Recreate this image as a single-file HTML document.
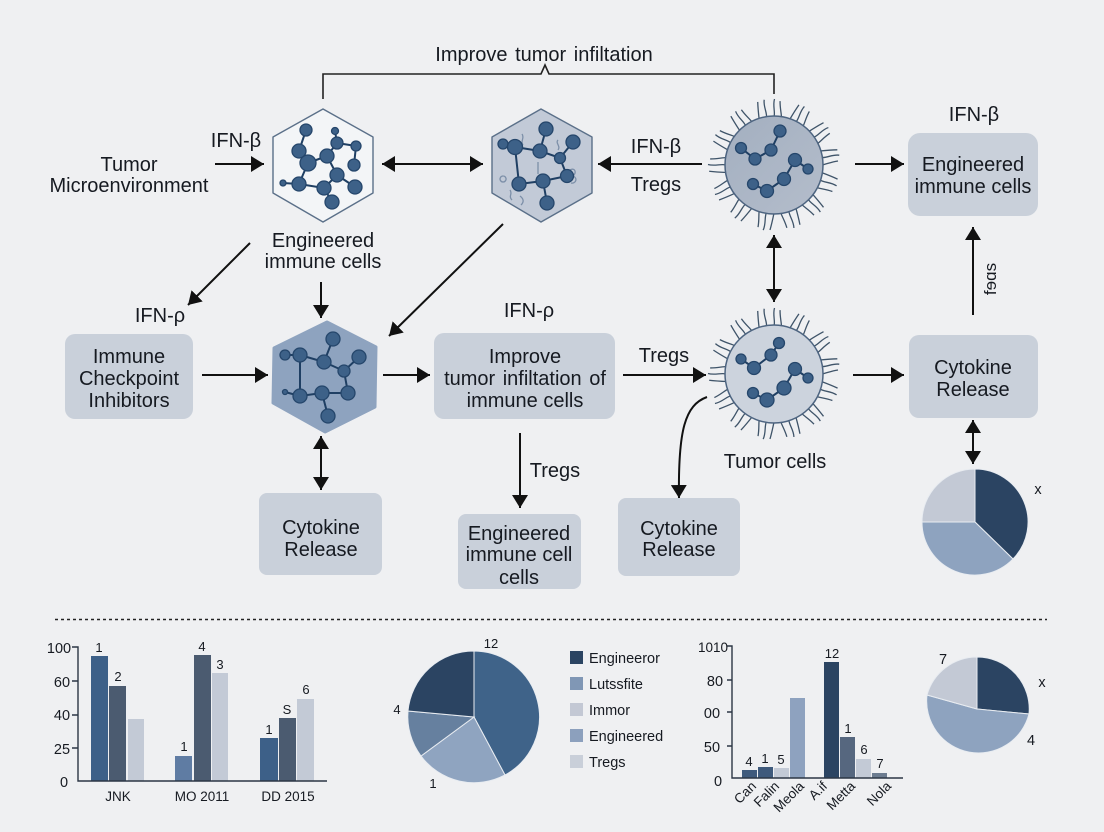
<!DOCTYPE html>
<html><head><meta charset="utf-8"><style>
html,body{margin:0;padding:0;background:#eff0f2}
svg{display:block}
text{font-family:"Liberation Sans","DejaVu Sans",sans-serif;fill:#161a21;font-size:20px;text-anchor:middle}
.s{font-size:14.5px}
.l{text-anchor:start;font-size:14.5px}
.a{fill:none;stroke:#111;stroke-width:2}
.e{stroke:#1f3f63;stroke-width:2;fill:none}
.n circle{fill:#3d6188;stroke:#25466b;stroke-width:1.3}
.p path{stroke:#e8ecf1;stroke-width:1}
.q{fill:none;stroke:#7c8fa8;stroke-width:1.3}
.w{word-spacing:2px}
</style></head><body>
<svg width="1104" height="832" viewBox="0 0 1104 832" xmlns="http://www.w3.org/2000/svg">
<defs>
<marker id="m" markerUnits="userSpaceOnUse" markerWidth="14" markerHeight="16" refX="13" refY="8" orient="auto-start-reverse"><path d="M0,0L13,8L0,16Z" fill="#111"/></marker>
<path id="ha" d="M0,-48C1.500,-53 -1.500,-59 .5,-66"/>
<path id="hb" d="M0,-48C-1,-53 -3,-57 -4,-64"/>
<path id="hc" d="M0,-48C1,-53 2,-58 4,-65"/>
<g id="hairs" fill="none" stroke="#3f5469" stroke-width="1.3">
<use href="#ha" transform="rotate(0)"/><use href="#hb" transform="rotate(9)"/><use href="#hc" transform="rotate(19)"/><use href="#ha" transform="rotate(27)"/><use href="#hb" transform="rotate(37)"/><use href="#hc" transform="rotate(46)"/><use href="#ha" transform="rotate(55)"/><use href="#hb" transform="rotate(64)"/><use href="#hc" transform="rotate(73)"/><use href="#ha" transform="rotate(81)"/>
<use href="#hb" transform="rotate(90)"/><use href="#hc" transform="rotate(99)"/><use href="#ha" transform="rotate(108)"/><use href="#hb" transform="rotate(118)"/><use href="#hc" transform="rotate(127)"/><use href="#ha" transform="rotate(135)"/><use href="#hb" transform="rotate(145)"/><use href="#hc" transform="rotate(153)"/><use href="#ha" transform="rotate(162)"/><use href="#hb" transform="rotate(172)"/>
<use href="#hc" transform="rotate(180)"/><use href="#ha" transform="rotate(189)"/><use href="#hb" transform="rotate(198)"/><use href="#hc" transform="rotate(207)"/><use href="#ha" transform="rotate(216)"/><use href="#hb" transform="rotate(226)"/><use href="#hc" transform="rotate(234)"/><use href="#ha" transform="rotate(243)"/><use href="#hb" transform="rotate(252)"/><use href="#hc" transform="rotate(261)"/>
<use href="#ha" transform="rotate(270)"/><use href="#hb" transform="rotate(279)"/><use href="#hc" transform="rotate(288)"/><use href="#ha" transform="rotate(297)"/><use href="#hb" transform="rotate(306)"/><use href="#hc" transform="rotate(315)"/><use href="#ha" transform="rotate(324)"/><use href="#hb" transform="rotate(333)"/><use href="#hc" transform="rotate(342)"/><use href="#ha" transform="rotate(351)"/>
</g>
<linearGradient id="c1" x1="0" y1="0" x2="1" y2="1"><stop offset="0" stop-color="#a3afc0"/><stop offset="1" stop-color="#b4bdcb"/></linearGradient>
</defs>
<rect width="1104" height="832" fill="#eff0f2"/>

<path d="M323,99V74H541L545,65L549,74H774V94" fill="none" stroke="#222" stroke-width="1.6"/>
<text class="w" x="544" y="61">Improve tumor infiltation</text>

<!-- arrows -->
<path class="a" d="M215,164H264" marker-end="url(#m)"/>
<path class="a" d="M382,164H483" marker-start="url(#m)" marker-end="url(#m)"/>
<path class="a" d="M702,164H598" marker-end="url(#m)"/>
<path class="a" d="M855,164H904" marker-end="url(#m)"/>
<path class="a" d="M973,315V227" marker-end="url(#m)"/>
<path class="a" d="M774,235V302" marker-start="url(#m)" marker-end="url(#m)"/>
<path class="a" d="M202,375H268" marker-end="url(#m)"/>
<path class="a" d="M383,375H430" marker-end="url(#m)"/>
<path class="a" d="M623,375H706" marker-end="url(#m)"/>
<path class="a" d="M853,375H904" marker-end="url(#m)"/>
<path class="a" d="M250,243L188,305" marker-end="url(#m)"/>
<path class="a" d="M503,224L389,336" marker-end="url(#m)"/>
<path class="a" d="M321,282V318" marker-end="url(#m)"/>
<path class="a" d="M321,436V490" marker-start="url(#m)" marker-end="url(#m)"/>
<path class="a" d="M520,433V508" marker-end="url(#m)"/>
<path class="a" d="M973,420V464" marker-start="url(#m)" marker-end="url(#m)"/>

<!-- hex 1 -->
<path d="M323,109L373,137V193L323,222L273,193V137Z" fill="#f3f5f7" stroke="#5b7089" stroke-width="1.4" stroke-linejoin="round"/>
<path class="e" d="M306,130L299,151L308,163L327,156L337,143L335,131M337,143L356,146L354,165M327,156L337,175L355,187M337,175L324,188L332,202M324,188L299,184L308,163M299,184L283,183"/>
<g class="n"><circle cx="306" cy="130" r="6"/><circle cx="335" cy="131" r="3.5"/><circle cx="337" cy="143" r="6"/><circle cx="356" cy="146" r="5"/><circle cx="354" cy="165" r="6"/><circle cx="299" cy="151" r="7"/><circle cx="308" cy="163" r="8"/><circle cx="327" cy="156" r="7"/><circle cx="337" cy="175" r="7"/><circle cx="355" cy="187" r="7"/><circle cx="324" cy="188" r="7"/><circle cx="332" cy="202" r="7"/><circle cx="299" cy="184" r="7"/><circle cx="283" cy="183" r="3"/></g>

<!-- hex 2 -->
<path d="M541,109L592,137V193L541,222L492,193V137Z" fill="#c2cad7" stroke="#5b7089" stroke-width="1.4" stroke-linejoin="round"/>
<path class="q" d="M522,134c3,4 -2,7 1,11M558,140c-3,3 3,6 0,10M570,170c5,-3 7,3 3,6c5,2 3,8 -2,7M503,176a3,3 0 1 0 .1,0M510,190c3,4 -2,6 2,10M520,196c4,3 4,6 1,9M538,162v12"/>
<path class="e" d="M503,144L515,147L540,151L546,129M540,151L560,158L573,142M560,158L567,176L543,181L519,184L515,147M543,181L547,203"/>
<g class="n"><circle cx="503" cy="144" r="5"/><circle cx="515" cy="147" r="7.5"/><circle cx="546" cy="129" r="7"/><circle cx="540" cy="151" r="7"/><circle cx="573" cy="142" r="7"/><circle cx="560" cy="158" r="5.5"/><circle cx="567" cy="176" r="6.5"/><circle cx="543" cy="181" r="7"/><circle cx="519" cy="184" r="7"/><circle cx="547" cy="203" r="7"/></g>

<!-- hex 3 -->
<path d="M327,322L376,347L375,407L325,432L273,403L274,348Z" fill="#8ea3bf" stroke="#8ea3bf" stroke-width="3" stroke-linejoin="round"/>
<path class="e" d="M333,339L324,362L300,355L285,355M324,362L344,371L359,357M344,371L348,393L322,393L300,396L300,355M322,393L328,416M300,396L285,392"/>
<g class="n"><circle cx="333" cy="339" r="7"/><circle cx="359" cy="357" r="7"/><circle cx="344" cy="371" r="6"/><circle cx="324" cy="362" r="7"/><circle cx="300" cy="355" r="7"/><circle cx="285" cy="355" r="5"/><circle cx="300" cy="396" r="7"/><circle cx="322" cy="393" r="7"/><circle cx="348" cy="393" r="7"/><circle cx="328" cy="416" r="7"/><circle cx="285" cy="392" r="2.5"/></g>

<!-- cell 1 -->
<use href="#hairs" x="774" y="165"/>
<circle cx="774" cy="165" r="49" fill="url(#c1)" stroke="#4d6480" stroke-width="1.5"/>
<path class="e" d="M780,131L771,150L755,159L741,148M795,160L808,169M795,160L784,179L767,191L753,184"/>
<g class="n"><circle cx="780" cy="131" r="6"/><circle cx="771" cy="150" r="6"/><circle cx="755" cy="159" r="6"/><circle cx="741" cy="148" r="5.5"/><circle cx="795" cy="160" r="6.5"/><circle cx="808" cy="169" r="5"/><circle cx="784" cy="179" r="6.5"/><circle cx="767" cy="191" r="6.5"/><circle cx="753" cy="184" r="5.5"/></g>

<!-- cell 2 -->
<use href="#hairs" x="774" y="374"/>
<circle cx="774" cy="374" r="49" fill="#ccd3dd" stroke="#4d6480" stroke-width="1.5"/>
<path class="e" d="M779,343L771,355L754,368L741,359M795,369L808,378M795,369L784,388L767,400L753,393"/>
<g class="n"><circle cx="779" cy="343" r="5.5"/><circle cx="771" cy="355" r="6"/><circle cx="754" cy="368" r="6.5"/><circle cx="741" cy="359" r="5"/><circle cx="795" cy="369" r="6.5"/><circle cx="808" cy="378" r="5"/><circle cx="784" cy="388" r="7"/><circle cx="767" cy="400" r="7"/><circle cx="753" cy="393" r="5.5"/></g>

<!-- curve drawn over the cell hairs -->
<path class="a" d="M707,397C685,405 678,430 679,498" marker-end="url(#m)"/>

<!-- boxes -->
<g fill="#c9d0da">
<rect x="908" y="133" width="130" height="83" rx="12"/>
<rect x="909" y="335" width="129" height="83" rx="10"/>
<rect x="65" y="334" width="128" height="85" rx="10"/>
<rect x="434" y="333" width="181" height="86" rx="10"/>
<rect x="259" y="493" width="123" height="82" rx="8"/>
<rect x="458" y="514" width="123" height="75" rx="8"/>
<rect x="618" y="498" width="122" height="78" rx="8"/>
</g>

<!-- labels -->
<text x="129" y="171">Tumor</text><text x="129" y="192">Microenvironment</text>
<text x="236" y="147">IFN-β</text>
<text x="323" y="247">Engineered</text><text x="323" y="268">immune cells</text>
<text x="656" y="153">IFN-β</text><text x="656" y="191">Tregs</text>
<text x="974" y="121">IFN-β</text>
<text x="973" y="171">Engineered</text><text x="973" y="193">immune cells</text>
<text x="160" y="322">IFN-ρ</text><text x="529" y="317">IFN-ρ</text>
<text x="129" y="363">Immune</text><text x="129" y="385">Checkpoint</text><text x="129" y="407">Inhibitors</text>
<text x="525" y="363">Improve</text><text class="w" x="525" y="385">tumor infiltation of</text><text x="525" y="407">immune cells</text>
<text x="664" y="362">Tregs</text><text x="775" y="468">Tumor cells</text><text x="555" y="477">Tregs</text>
<text x="973" y="374">Cytokine</text><text x="973" y="396">Release</text>
<text x="321" y="534">Cytokine</text><text x="321" y="556">Release</text>
<text x="679" y="535">Cytokine</text><text x="679" y="556">Release</text>
<text x="519" y="540">Engineered</text><text x="519" y="561">immune cell</text><text x="519" y="584">cells</text>
<text style="font-size:17px" transform="translate(996,279) rotate(-90)">fɘɑs</text>

<!-- pie right -->
<g class="p">
<path d="M975,522V469A53,53 0 0 1 1013,559Z" fill="#2b4462"/>
<path d="M975,522L1013,559A53,53 0 0 1 922,522Z" fill="#8ea3bf"/>
<path d="M975,522H922A53,53 0 0 1 975,469Z" fill="#c3c9d5"/>
</g>
<text class="s" x="1038" y="494">x</text>

<line x1="55" y1="619.500" x2="1047" y2="619.500" stroke="#222" stroke-width="1.6" stroke-dasharray="3 3"/>

<!-- bar chart 1 -->
<g>
<rect x="91" y="656" width="17" height="125" fill="#3d6088"/>
<rect x="109" y="686" width="17" height="95" fill="#4b5b70"/>
<rect x="128" y="719" width="16" height="62" fill="#c3cad6"/>
<rect x="175" y="756" width="17" height="25" fill="#5f7ca3"/>
<rect x="194" y="655" width="17" height="126" fill="#4b5b70"/>
<rect x="212" y="673" width="16" height="108" fill="#c3cad6"/>
<rect x="260" y="738" width="18" height="43" fill="#3d6088"/>
<rect x="279" y="718" width="17" height="63" fill="#4b5b70"/>
<rect x="297" y="699" width="17" height="82" fill="#c3cad6"/>
</g>
<path d="M72,647H78V781H327M72,681H78M72,715H78M72,748H78" fill="none" stroke="#2c3644" stroke-width="1.4"/>
<text class="s" x="59" y="653">100</text><text class="s" x="62" y="687">60</text><text class="s" x="62" y="720">40</text><text class="s" x="62" y="754">25</text><text class="s" x="64" y="787">0</text>
<text class="s" x="99" y="652" style="font-size:13px">1</text><text class="s" x="118" y="681" style="font-size:13px">2</text>
<text class="s" x="184" y="751" style="font-size:13px">1</text><text class="s" x="202" y="651" style="font-size:13px">4</text><text class="s" x="220" y="669" style="font-size:13px">3</text>
<text class="s" x="269" y="734" style="font-size:13px">1</text><text class="s" x="287" y="714" style="font-size:13px">S</text><text class="s" x="306" y="694" style="font-size:13px">6</text>
<text class="s" x="118" y="801" style="font-size:13.500px">JNK</text><text class="s" x="202" y="801" style="font-size:13.500px">MO 2011</text><text class="s" x="288" y="801" style="font-size:13.500px">DD 2015</text>

<!-- pie 1 -->
<g class="p">
<path d="M474,717V651A66,66 0 0 1 505,775Z" fill="#3f6389"/>
<path d="M474,717L505,775A66,66 0 0 1 421,756Z" fill="#8fa4c0"/>
<path d="M474,717L421,756A66,66 0 0 1 408,711Z" fill="#66809f"/>
<path d="M474,717L408,711A66,66 0 0 1 474,651Z" fill="#2b4462"/>
</g>
<text class="s" x="491" y="648" style="font-size:13px">12</text><text class="s" x="397" y="714" style="font-size:13px">4</text><text class="s" x="433" y="788" style="font-size:13px">1</text>
<rect x="570" y="651" width="13" height="13" fill="#2b4462"/><rect x="570" y="677" width="13" height="13" fill="#8097b5"/><rect x="570" y="703" width="13" height="13" fill="#c3c8d4"/><rect x="570" y="729" width="13" height="13" fill="#8ca0bd"/><rect x="570" y="755" width="13" height="13" fill="#c9cfd9"/>
<text class="l" x="589" y="663">Engineeror</text><text class="l" x="589" y="689">Lutssfite</text><text class="l" x="589" y="715">Immor</text><text class="l" x="589" y="741">Engineered</text><text class="l" x="589" y="767">Tregs</text>

<!-- bar chart 2 -->
<rect x="742" y="770" width="15" height="8" fill="#3f5a7c"/><rect x="758" y="767" width="15" height="11" fill="#3f5a7c"/><rect x="774" y="768" width="15" height="10" fill="#c3cad6"/><rect x="790" y="698" width="15" height="80" fill="#8ea2bf"/><rect x="824" y="662" width="15" height="116" fill="#2b4462"/><rect x="840" y="737" width="15" height="41" fill="#56677f"/><rect x="856" y="759" width="15" height="19" fill="#c3cad6"/><rect x="872" y="773" width="15" height="5" fill="#6c7c90"/>
<path d="M727,646H732V778H903M727,680H732M727,712H732M727,746H732" fill="none" stroke="#2c3644" stroke-width="1.4"/>
<text class="s" x="713" y="652" style="font-size:13.500px">1010</text><text class="s" x="715" y="686">80</text><text class="s" x="712" y="718">00</text><text class="s" x="712" y="752">50</text><text class="s" x="718" y="786">0</text>
<text class="s" x="749" y="766" style="font-size:13px">4</text><text class="s" x="765" y="763" style="font-size:13px">1</text><text class="s" x="781" y="764" style="font-size:13px">5</text><text class="s" x="832" y="658" style="font-size:13px">12</text><text class="s" x="848" y="733" style="font-size:13px">1</text><text class="s" x="864" y="754" style="font-size:13px">6</text><text class="s" x="880" y="768" style="font-size:13px">7</text>
<text class="s" style="text-anchor:end;font-size:13.500px" transform="translate(757,787) rotate(-45)">Can</text>
<text class="s" style="text-anchor:end;font-size:13.500px" transform="translate(780,787) rotate(-45)">Falin</text>
<text class="s" style="text-anchor:end;font-size:13.500px" transform="translate(805,787) rotate(-45)">Meola</text>
<text class="s" style="text-anchor:end;font-size:13.500px" transform="translate(828,787) rotate(-45)">A.if</text>
<text class="s" style="text-anchor:end;font-size:13.500px" transform="translate(856,787) rotate(-45)">Metta</text>
<text class="s" style="text-anchor:end;font-size:13.500px" transform="translate(892,787) rotate(-45)">Nola</text>

<!-- pie 3 -->
<g class="p">
<path d="M977,709V657A52,52 0 0 1 1029,714Z" fill="#2b4462"/>
<path d="M977,709L1029,714A52,52 0 0 1 927,695Z" fill="#8ea3bf"/>
<path d="M977,709L927,695A52,52 0 0 1 977,657Z" fill="#c3c9d5"/>
</g>
<text class="s" x="943" y="664">7</text><text class="s" x="1042" y="687">x</text><text class="s" x="1031" y="745">4</text>
</svg>
</body></html>
